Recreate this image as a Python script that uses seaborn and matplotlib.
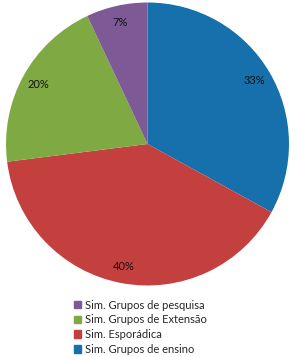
import matplotlib
matplotlib.use('Agg')
import matplotlib.pyplot as plt
import matplotlib.patches as mpatches
import seaborn as sns

# Data
labels = ['Sim. Grupos de ensino', 'Sim. Esporádica', 'Sim. Grupos de Extensão', 'Sim. Grupos de pesquisa']
values = [33, 40, 20, 7]
colors = ['#1570AB', '#C4403F', '#7FAA43', '#7D5A96']

sns.set_style('white')
plt.rcParams['font.family'] = ['Lato', 'DejaVu Sans']

fig = plt.figure(figsize=(2.96, 3.57), dpi=100)
ax = fig.add_axes([0.0203, 0.2003, 0.956, 0.7927])
wedges, texts, autotexts = ax.pie(values, colors=colors, startangle=90, counterclock=False,
                                  autopct='%1.0f%%', pctdistance=0.88,
                                  wedgeprops=dict(linewidth=0),
                                  textprops=dict(fontsize=8, color='#111111'))
ax.set_xlim(-1, 1)
ax.set_ylim(-1, 1)
ax.set_aspect('equal')

# legend in reverse order, like the original
handles = [mpatches.Patch(color=c, label=l) for c, l in zip(colors, labels)][::-1]
fig.legend(handles=handles, loc='upper left', bbox_to_anchor=(0.25, 0.161),
           frameon=False, fontsize=8, handlelength=0.65, handleheight=0.65,
           handletextpad=0.3, labelspacing=0.34, borderpad=0, borderaxespad=0)

fig.savefig('out.png', dpi=100)
